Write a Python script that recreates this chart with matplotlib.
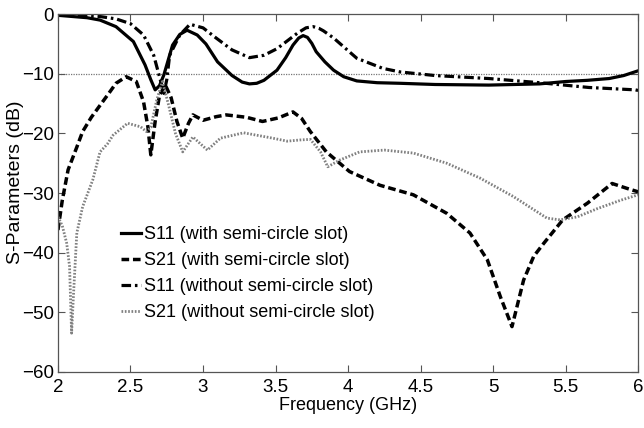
import matplotlib
matplotlib.use("Agg")
from matplotlib import pyplot as plt

plt.rcParams['font.family'] = ['Liberation Sans', 'DejaVu Sans']

# S11 with semi-circle slot (solid)
freq_s11_with = [2.0, 2.1, 2.2, 2.29, 2.4, 2.52, 2.6, 2.64, 2.67, 2.70, 2.73, 2.79, 2.84, 2.89,
                 2.96, 3.02, 3.1, 3.2, 3.27, 3.32, 3.37, 3.42, 3.51, 3.57, 3.62, 3.66, 3.69, 3.72,
                 3.75, 3.78, 3.84, 3.9, 3.97, 4.06, 4.2, 4.36, 4.6, 4.97, 5.32, 5.5, 5.65, 5.8,
                 5.9, 6.0]
s11_with = [-0.2, -0.4, -0.6, -1.0, -2.1, -4.6, -8.5, -11.0, -12.7, -12.0, -10.2, -5.2, -3.4, -2.7,
            -3.5, -5.0, -8.0, -10.3, -11.4, -11.7, -11.6, -11.1, -9.4, -7.3, -5.2, -4.0, -3.6, -3.9,
            -4.9, -6.3, -8.0, -9.4, -10.5, -11.2, -11.5, -11.6, -11.8, -11.9, -11.7, -11.3, -11.1, -10.8,
            -10.3, -9.5]

# S21 with semi-circle slot (dashed)
freq_s21_with = [2.0, 2.03, 2.07, 2.13, 2.17, 2.23, 2.29, 2.35, 2.40, 2.47, 2.54, 2.59, 2.62, 2.64,
                 2.67, 2.70, 2.74, 2.78, 2.82, 2.86, 2.9, 2.93, 3.0, 3.09, 3.16, 3.3, 3.41, 3.52,
                 3.62, 3.68, 3.74, 3.85, 4.01, 4.22, 4.45, 4.68, 4.84, 4.96, 5.05, 5.13, 5.21,
                 5.28, 5.35, 5.48, 5.65, 5.82, 5.92, 6.0]
s21_with = [-36.2, -31.2, -26.1, -22.3, -19.7, -17.3, -15.3, -13.3, -11.6, -10.5, -11.3, -14.7, -18.9, -23.6,
            -18.0, -13.6, -11.9, -14.0, -18.0, -20.8, -18.3, -16.9, -17.8, -17.2, -16.9, -17.3, -18.0, -17.4,
            -16.4, -17.5, -19.7, -23.1, -26.4, -28.7, -30.3, -33.4, -36.7, -41.2, -47.4, -52.4, -44.6,
            -40.6, -38.4, -34.5, -31.7, -28.4, -29.2, -29.8]

# S11 without semi-circle slot (dash-dot)
freq_s11_without = [2.0, 2.15, 2.29, 2.40, 2.50, 2.59, 2.66, 2.70, 2.73, 2.75, 2.77, 2.84, 2.91,
                    3.0, 3.09, 3.2, 3.32, 3.42, 3.51, 3.65, 3.71, 3.76, 3.80, 3.83, 3.9, 4.06,
                    4.24, 4.36, 4.6, 4.97, 5.32, 5.66, 5.98, 6.0]
s11_without = [-0.1, -0.2, -0.4, -0.8, -1.6, -3.5, -6.9, -10.5, -13.3, -11.0, -6.9, -3.5, -1.7,
               -2.3, -4.0, -6.0, -7.3, -6.9, -5.8, -3.2, -2.3, -2.1, -2.4, -2.8, -4.0, -7.4,
               -9.1, -9.7, -10.3, -10.8, -11.5, -12.3, -12.7, -12.8]

# S21 without semi-circle slot (dotted)
freq_s21_without = [2.0, 2.03, 2.06, 2.08, 2.094, 2.105, 2.12, 2.13, 2.17, 2.24, 2.29, 2.34, 2.38,
                    2.48, 2.57, 2.61, 2.64, 2.68, 2.72, 2.76, 2.81, 2.86, 2.93, 3.03, 3.12, 3.28,
                    3.48, 3.58, 3.67, 3.74, 3.81, 3.86, 3.94, 4.08, 4.25, 4.45, 4.68, 4.91,
                    5.14, 5.37, 5.46, 5.58, 5.72, 5.88, 6.0]
s21_without = [-34.0, -35.5, -38.4, -42.3, -53.5, -48.0, -41.2, -36.7, -32.3, -27.8, -23.1, -21.8, -20.3,
               -18.3, -18.9, -19.7, -19.0, -14.5, -11.3, -15.0, -20.0, -23.1, -20.6, -22.8, -20.8, -19.9,
               -20.8, -21.3, -21.1, -21.0, -23.1, -25.6, -24.5, -23.1, -22.8, -23.3, -25.0, -27.5,
               -30.6, -34.2, -34.5, -34.0, -32.6, -31.2, -30.3]

XTICKS = [2, 2.5, 3, 3.5, 4, 4.5, 5, 5.5, 6]
XTICK_LABELS = ['2', '2.5', '3', '3.5', '4', '4.5', '5', '5.5', '6']
YTICKS = [-60, -50, -40, -30, -20, -10, 0]

fig = plt.figure(figsize=(6.44, 4.28), dpi=100)
ax = fig.add_axes([0.090, 0.131, 0.901, 0.836])

ax.axhline(-10, color='#777777', linestyle=(0, (1, 1)), linewidth=0.9, zorder=1)

ax.plot(freq_s11_with, s11_with, color='black', linestyle='-', linewidth=2.3,
        label='S11 (with semi-circle slot)')
ax.plot(freq_s21_with, s21_with, color='black', linestyle=(0, (2.2, 1.1)), linewidth=2.5,
        label='S21 (with semi-circle slot)')
ax.plot(freq_s11_without, s11_without, color='black', linestyle=(0, (3.0, 1.2, 0.8, 1.2)),
        linewidth=2.3, label='S11 (without semi-circle slot)')
ax.plot(freq_s21_without, s21_without, color='#808080', linestyle=(0, (0.6, 0.6)), linewidth=2.0,
        label='S21 (without semi-circle slot)')

ax.set_xlim(2, 6)
ax.set_ylim(-60, 0)
ax.set_xticks(XTICKS)
ax.set_xticklabels(XTICK_LABELS)
ax.set_yticks(YTICKS)
ax.tick_params(direction='in', top=True, right=True, length=5, width=0.8,
               color='#555555', labelsize=13.5)
ax.tick_params(axis='x', pad=5)
ax.tick_params(axis='y', pad=3)
for sp in ax.spines.values():
    sp.set_color('#555555')
    sp.set_linewidth(0.9)

ax.set_xlabel('Frequency (GHz)', fontsize=13, labelpad=1)
ax.set_ylabel('S-Parameters (dB)', fontsize=14)
ax.yaxis.set_label_coords(-0.058, 0.53)

ax.legend(loc='center left', bbox_to_anchor=(0.108, 0.274), frameon=False, fontsize=13,
          handlelength=1.15, handletextpad=0.15, labelspacing=0.5, borderpad=0, borderaxespad=0)

fig.savefig('out.png', dpi=100)
